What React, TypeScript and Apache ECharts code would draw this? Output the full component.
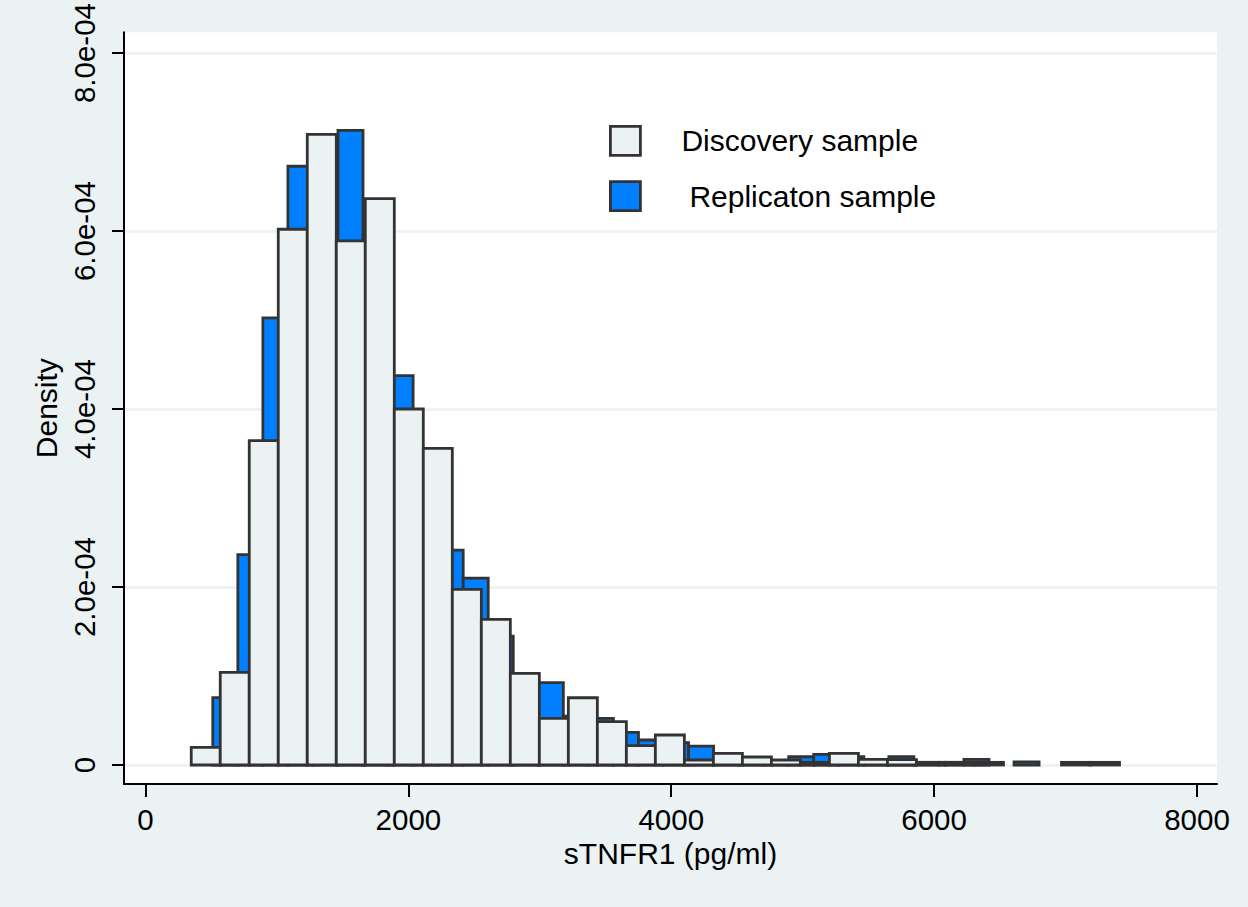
import React, { useEffect, useRef } from 'react';
import * as echarts from 'echarts';

// ---- data ----
const xTickValues = [0, 2000, 4000, 6000, 8000];
const yTickValues = [0, 2e-4, 4e-4, 6e-4, 8e-4];
const yTickLabels = ['0', '2.0e-04', '4.0e-04', '6.0e-04', '8.0e-04'];

const discoveryName = 'Discovery sample';
const replicationName = 'Replicaton sample';

const discoveryStart = 348;
const discoveryBinWidth = 220.7;
const discoveryDensity = [
  0.198e-4, 1.04e-4, 3.645e-4, 6.02e-4, 7.087e-4, 5.89e-4, 6.365e-4, 4.0e-4,
  3.558e-4, 1.973e-4, 1.636e-4, 1.03e-4, 0.524e-4, 0.756e-4, 0.487e-4, 0.217e-4,
  0.337e-4, 0.056e-4, 0.131e-4, 0.09e-4, 0.056e-4, 0.03e-4, 0.131e-4, 0.064e-4,
  0.06e-4, 0.03e-4, 0.03e-4, 0.03e-4, 0, 0, 0.03e-4, 0.03e-4,
];

const replicationStart = 512;
const replicationBinWidth = 190.5;
const replicationDensity = [
  0.757e-4, 2.364e-4, 5.024e-4, 6.728e-4, 6.1e-4, 7.13e-4, 5.96e-4, 4.376e-4,
  3.3e-4, 2.415e-4, 2.1e-4, 1.449e-4, 1.0e-4, 0.925e-4, 0.55e-4, 0.524e-4,
  0.367e-4, 0.281e-4, 0.25e-4, 0.213e-4, 0.1e-4, 0.06e-4, 0.04e-4, 0.093e-4,
  0.12e-4, 0.093e-4, 0.04e-4, 0.093e-4, 0.03e-4, 0.03e-4, 0.064e-4, 0, 0.035e-4,
];

// ---- styles ----
const FONT = "'Liberation Sans', Arial, sans-serif";
const BG = '#EAF2F3';
const DISC_FILL = '#EAF2F3';
const REP_FILL = '#0080FF';
const OUTLINE = '#333333';

function toBins(start: number, width: number, dens: number[]) {
  return dens
    .map((d, i) => [start + i * width, start + (i + 1) * width, d])
    .filter((b) => b[2] > 0);
}

function makeRender(fill: string) {
  return (_params: any, api: any) => {
    const x0 = api.value(0);
    const x1 = api.value(1);
    const h = api.value(2);
    const pTop = api.coord([x0, h]);
    const pBase = api.coord([x1, 0]);
    return {
      type: 'rect',
      shape: {
        x: pTop[0],
        y: pTop[1],
        width: pBase[0] - pTop[0],
        height: pBase[1] - pTop[1],
      },
      style: { fill, stroke: OUTLINE, lineWidth: 2.8 },
    };
  };
}

export default function App() {
  const ref = useRef<HTMLDivElement>(null);

  useEffect(() => {
    if (!ref.current) return;
    const chart = echarts.init(ref.current, undefined, { renderer: 'svg' });
    const option: any = {
      animation: false,
      backgroundColor: BG,
      grid: {
        left: 124,
        top: 32,
        width: 1093,
        height: 752,
        show: true,
        backgroundColor: '#ffffff',
        borderWidth: 0,
      },
      legend: {
        orient: 'vertical',
        left: 609,
        top: 125,
        padding: 0,
        itemWidth: 30,
        itemHeight: 29,
        itemGap: 23.5,
        selectedMode: false,
        data: [
          {
            name: discoveryName,
            icon: 'rect',
            itemStyle: { color: DISC_FILL, borderColor: OUTLINE, borderWidth: 2.8 },
          },
          {
            name: replicationName,
            icon: 'rect',
            itemStyle: { color: REP_FILL, borderColor: OUTLINE, borderWidth: 2.8 },
          },
        ],
        formatter: (name: string) =>
          name === discoveryName ? `{a|${name}}` : `{b|${name}}`,
        textStyle: {
          fontSize: 30,
          color: '#000',
          fontFamily: FONT,
          rich: {
            a: { fontSize: 30, color: '#000', fontFamily: FONT, padding: [0, 0, 0, 36] },
            b: { fontSize: 30, color: '#000', fontFamily: FONT, padding: [0, 0, 0, 44] },
          },
        },
      },
      xAxis: {
        type: 'value',
        min: -163.6,
        max: 8152.2,
        name: 'sTNFR1 (pg/ml)',
        nameLocation: 'middle',
        nameGap: 51,
        nameTextStyle: { fontSize: 30, color: '#000', fontFamily: FONT },
        axisLine: { show: true, onZero: false, lineStyle: { color: '#000', width: 2 } },
        axisTick: {
          show: true,
          length: 13,
          customValues: xTickValues,
          lineStyle: { color: '#000', width: 2 },
        },
        axisLabel: {
          customValues: xTickValues,
          fontSize: 29.5,
          color: '#000',
          fontFamily: FONT,
          margin: 20,
          formatter: (v: number) => String(Math.round(v)),
        },
        splitLine: { show: false },
      },
      yAxis: {
        type: 'value',
        min: -2.134e-5,
        max: 8.2325e-4,
        name: 'Density',
        nameLocation: 'middle',
        nameRotate: 90,
        nameGap: 55,
        nameTextStyle: { fontSize: 30, color: '#000', fontFamily: FONT },
        axisLine: { show: true, onZero: false, lineStyle: { color: '#000', width: 2 } },
        axisTick: {
          show: true,
          length: 12,
          customValues: yTickValues,
          lineStyle: { color: '#000', width: 2 },
        },
        axisLabel: {
          customValues: yTickValues,
          rotate: 90,
          fontSize: 29.5,
          color: '#000',
          fontFamily: FONT,
          margin: 25,
          formatter: (v: number) => {
            const i = yTickValues.findIndex((t) => Math.abs(t - v) < 1e-9);
            return i >= 0 ? yTickLabels[i] : '';
          },
        },
        splitLine: { show: true, lineStyle: { color: BG, width: 2.5 } },
      },
      series: [
        {
          name: replicationName,
          type: 'custom',
          renderItem: makeRender(REP_FILL),
          encode: { x: [0, 1], y: 2 },
          itemStyle: { color: REP_FILL },
          data: toBins(replicationStart, replicationBinWidth, replicationDensity),
        },
        {
          name: discoveryName,
          type: 'custom',
          renderItem: makeRender(DISC_FILL),
          encode: { x: [0, 1], y: 2 },
          itemStyle: { color: DISC_FILL },
          data: toBins(discoveryStart, discoveryBinWidth, discoveryDensity),
        },
      ],
    };
    chart.setOption(option);
    return () => chart.dispose();
  }, []);

  return (
    <div
      ref={ref}
      style={{ position: 'fixed', left: 0, top: 0, width: 1248, height: 907 }}
    />
  );
}
